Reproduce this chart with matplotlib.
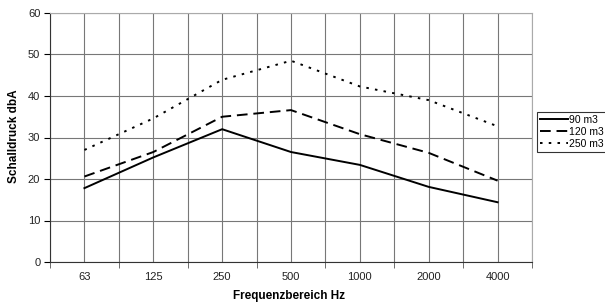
import numpy as np
import matplotlib.pyplot as plt

# --------------------------------
# Data
# --------------------------------
freq_labels = ['63', '125', '250', '500', '1000', '2000', '4000']
vol_90 = [17.8, 25.2, 32.0, 26.5, 23.4, 18.1, 14.4]
vol_120 = [20.6, 26.5, 35.0, 36.6, 30.8, 26.3, 19.6]
vol_250 = [27.0, 34.6, 43.9, 48.5, 42.3, 39.0, 32.7]

plt.rcParams['font.family'] = ['Liberation Sans', 'DejaVu Sans']

fig = plt.figure(figsize=(6.05, 3.04), dpi=100)
ax = fig.add_axes([50/605, 42/304, 482/605, 249/304])

x = np.arange(len(freq_labels))

ax.plot(x, vol_90, color='black', lw=1.4, ls='-', label='90 m3')
ax.plot(x, vol_120, color='black', lw=1.4, ls=(0, (5.5, 3)), label='120 m3')
ax.plot(x, vol_250, color='black', lw=1.4, ls=(0, (1.3, 3.2)), label='250 m3')

# --------------------------------
# Axes / grid
# --------------------------------
ax.set_xlim(-0.5, len(freq_labels) - 0.5)
ax.set_ylim(0, 60)
ax.set_xticks(x)
ax.set_xticklabels(freq_labels)
ax.set_xticks(np.arange(-0.5, len(freq_labels), 1.0), minor=True)
ax.set_yticks(np.arange(0, 61, 10))

ax.grid(True, which='both', axis='x', color='#777777', lw=0.8)
ax.grid(True, which='major', axis='y', color='#777777', lw=0.8)
ax.set_axisbelow(True)

ax.tick_params(axis='x', which='major', length=0, pad=7, labelsize=8, labelcolor='#222222')
ax.tick_params(axis='x', which='minor', length=4, direction='out', color='#555555')
ax.tick_params(axis='y', length=4, direction='out', labelsize=8, labelcolor='#222222', pad=3)

for side in ['top', 'right']:
    ax.spines[side].set_color('#aaaaaa')
for side in ['left', 'bottom']:
    ax.spines[side].set_color('#333333')

ax.set_xlabel('Frequenzbereich Hz', fontsize=8.5, fontweight='bold')
ax.set_ylabel('Schalldruck dbA', fontsize=8.5, fontweight='bold')
# place axis titles like the reference (pixel positions converted to axes coords)
ax.xaxis.set_label_coords((289 - 50) / 482, (262 - 296) / 249)
ax.yaxis.set_label_coords((14 - 50) / 482, (262 - 136) / 249)
ax.xaxis.label.set_va('center')
ax.yaxis.label.set_va('center')

leg = ax.legend(loc='center left', bbox_to_anchor=(1.01, (262 - 132) / 249), fontsize=7.5,
                frameon=True, fancybox=False, edgecolor='black', borderpad=0.3,
                handlelength=2.7, handletextpad=0.1, labelspacing=0.2, borderaxespad=0)
leg.get_frame().set_linewidth(0.8)

fig.savefig('out.png', dpi=100)
